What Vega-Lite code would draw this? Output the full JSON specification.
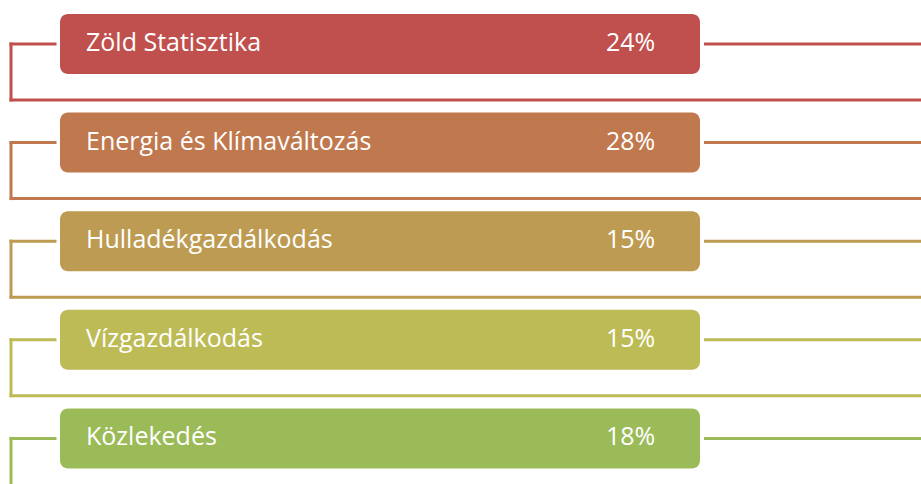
{
  "$schema": "https://vega.github.io/schema/vega-lite/v6.json",
  "autosize": {"type": "none"},
  "width": 921,
  "height": 484,
  "padding": 0,
  "background": "white",
  "config": {"view": {"stroke": null}},
  "data": {
    "values": [
      {"rank": 1, "name": "Zöld Statisztika", "pct": "24%"},
      {"rank": 2, "name": "Energia és Klímaváltozás", "pct": "28%"},
      {"rank": 3, "name": "Hulladékgazdálkodás", "pct": "15%"},
      {"rank": 4, "name": "Vízgazdálkodás", "pct": "15%"},
      {"rank": 5, "name": "Közlekedés", "pct": "18%"}
    ]
  },
  "encoding": {
    "y": {"field": "rank", "type": "quantitative", "axis": null,
      "scale": {"domain": [0.5538, 5.4625], "reverse": true, "nice": false, "zero": false, "padding": 0}},
    "color": {"field": "name", "type": "nominal", "legend": null,
      "scale": {"domain": ["Zöld Statisztika", "Energia és Klímaváltozás", "Hulladékgazdálkodás", "Vízgazdálkodás", "Közlekedés"],
        "range": ["#C0504D", "#C0784E", "#BE9B52", "#BDBB55", "#9BBB59"]}}
  },
  "layer": [
    {
      "mark": {"type": "rule", "strokeWidth": 3, "strokeCap": "square", "clip": true},
      "encoding": {
        "x": {"datum": 11, "type": "quantitative", "axis": null, "scale": {"domain": [0, 921], "nice": false, "zero": false, "padding": 0}},
        "x2": {"datum": 55}
      }
    },
    {
      "mark": {"type": "rule", "strokeWidth": 3, "strokeCap": "square", "clip": true, "y2Offset": 56},
      "encoding": {
        "x": {"datum": 11, "type": "quantitative"},
        "y2": {"field": "rank"}
      }
    },
    {
      "mark": {"type": "rule", "strokeWidth": 3, "strokeCap": "square", "clip": true, "yOffset": 56},
      "encoding": {
        "x": {"datum": 11, "type": "quantitative"},
        "x2": {"datum": 921}
      }
    },
    {
      "mark": {"type": "rule", "strokeWidth": 3, "clip": true},
      "encoding": {
        "x": {"datum": 704, "type": "quantitative"},
        "x2": {"datum": 921}
      }
    },
    {
      "mark": {"type": "bar", "size": 60, "cornerRadius": 8, "orient": "horizontal"},
      "encoding": {
        "x": {"datum": 60, "type": "quantitative"},
        "x2": {"datum": 700}
      }
    },
    {
      "mark": {"type": "text", "align": "left", "baseline": "middle", "font": "Open Sans", "fontSize": 25, "dy": -1},
      "encoding": {
        "x": {"datum": 86, "type": "quantitative"},
        "text": {"field": "name"},
        "color": {"value": "white"}
      }
    },
    {
      "mark": {"type": "text", "align": "left", "baseline": "middle", "font": "Open Sans", "fontSize": 25, "dy": -1},
      "encoding": {
        "x": {"datum": 606, "type": "quantitative"},
        "text": {"field": "pct"},
        "color": {"value": "white"}
      }
    }
  ]
}
